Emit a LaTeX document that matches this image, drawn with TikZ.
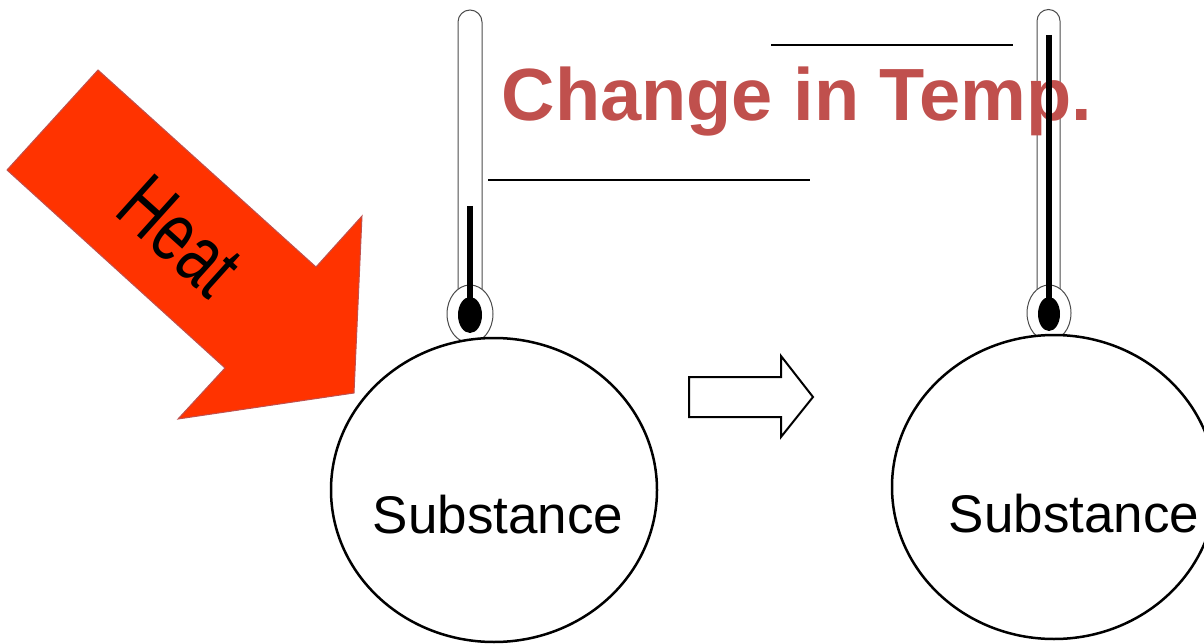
\documentclass[tikz,border=0pt]{standalone}
\usepackage{fontspec}
\setmainfont{Liberation Sans}
\definecolor{titlered}{HTML}{C0504D}
\definecolor{heatred}{HTML}{FF3300}
\begin{document}
\begin{tikzpicture}
[x=1pt,y=-1pt,every node/.style={inner sep=0pt},
 glass/.style={draw=black!70,line width=1},
 mercury/.style={line width=6.5}]
\useasboundingbox (0,0) rectangle (1204,644);
% heat arrow
\draw [fill=heatred,draw=titlered,line width=1] (7,170) -- (98,70) -- (316,267) -- (362,216) -- (354,393) -- (178,419) -- (225,368) -- cycle;
\node (heat) at (180,236) [rotate=-42] {\fontsize{84}{84}\selectfont\scalebox{0.73}[1]{Heat}};
% thermometers
\draw [glass] (458,289) -- (458,22) arc (180:360:12) -- (482,289);
\draw [glass] (470,314) ellipse (23 and 29);
\draw [glass] (1037,289) -- (1037,21) arc (180:360:11.5) -- (1060,289);
\draw [glass] (1049,313) ellipse (22 and 28);
\draw [line width=2.5] (488,180) -- (810,180);
\draw [line width=2.5] (771,45) -- (1013,45);
\node (title) at (797,121) [anchor=base,text=titlered] {\fontsize{74}{74}\selectfont\bfseries Change in Temp.};
\draw [mercury] (470,206) -- (470,305);
\fill (470,315) ellipse (12 and 18);
\draw [mercury] (1049,35) -- (1049,305);
\fill (1049,314) ellipse (11 and 17);
% substances
\draw [line width=2.5,fill=white] (494,490) ellipse (163 and 152);
\draw [line width=2.5,fill=white] (1054,487) ellipse (162 and 152);
\node (s1) at (498,533) [anchor=base] {\fontsize{53}{53}\selectfont Substance};
\node (s2) at (1074,532) [anchor=base] {\fontsize{53}{53}\selectfont Substance};
\draw [line width=2,fill=white] (689,377) -- (781,377) -- (781,356) -- (813,397) -- (781,437) -- (781,417) -- (689,417) -- cycle;
\end{tikzpicture}
\end{document}
